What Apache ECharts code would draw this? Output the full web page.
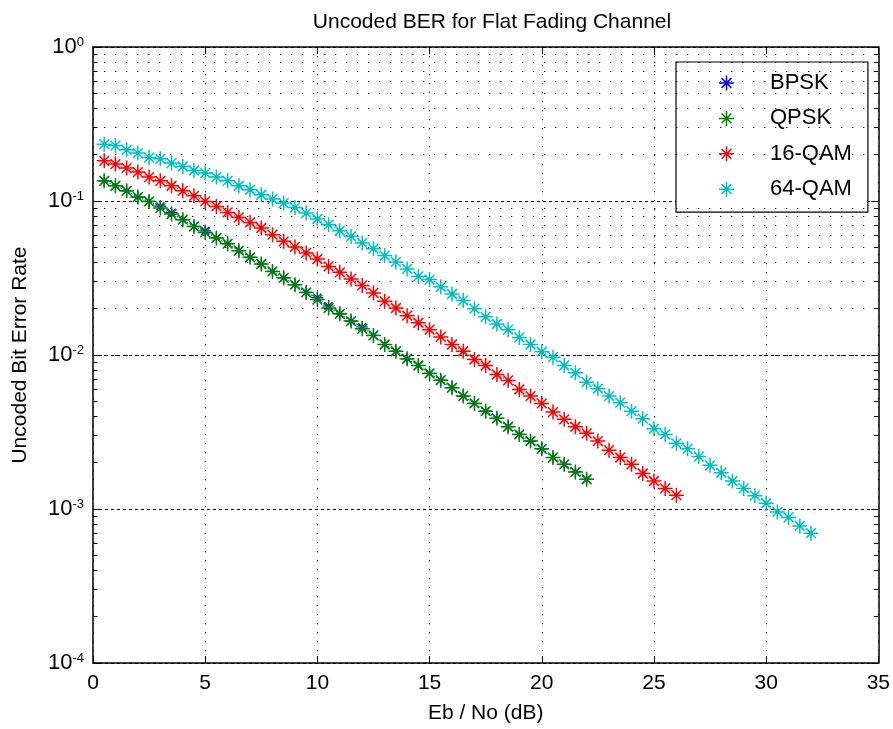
<!DOCTYPE html>
<html>
<head>
<meta charset="utf-8">
<script src="https://cdn.jsdelivr.net/npm/echarts@6/dist/echarts.min.js"></script>
<style>html,body{margin:0;padding:0;background:#fff;}#chart{width:893px;height:729px;}</style>
</head>
<body>
<div id="chart"></div>
<script>
// ---- data ----
const ebnoDb = [0.5,1,1.5,2,2.5,3,3.5,4,4.5,5,5.5,6,6.5,7,7.5,8,8.5,9,9.5,10,
  10.5,11,11.5,12,12.5,13,13.5,14,14.5,15,15.5,16,16.5,17,17.5,18,18.5,19,19.5,20,
  20.5,21,21.5,22,22.5,23,23.5,24,24.5,25,25.5,26,26.5,27,27.5,28,28.5,29,29.5,30,
  30.5,31,31.5,32];
const seriesNames = ['BPSK','QPSK','16-QAM','64-QAM'];
const berBPSK = [0.1353,0.1256,0.1165,0.1061,0.0993,0.0925,0.0840,0.0756,0.0684,0.0640,
  0.0575,0.0528,0.0476,0.0431,0.0390,0.0349,0.0317,0.0286,0.0255,0.0236,
  0.0208,0.0185,0.0166,0.0152,0.0134,0.0117,0.01058,0.00945,0.00855,0.00759,
  0.00686,0.00613,0.00541,0.00485,0.00432,0.00388,0.00342,0.00305,0.00276,0.00246,
  0.00216,0.00195,0.00174,0.00156];
const berQPSK = [0.1353,0.1256,0.1165,0.1061,0.0993,0.0900,0.0823,0.0756,0.0684,0.0625,
  0.0575,0.0528,0.0476,0.0431,0.0390,0.0349,0.0317,0.0286,0.0255,0.0229,
  0.0202,0.0185,0.0166,0.0148,0.0134,0.0117,0.01058,0.00945,0.00855,0.00759,
  0.00686,0.00613,0.00541,0.00485,0.00432,0.00388,0.00342,0.00305,0.00276,0.00246,
  0.00216,0.00195,0.00174,0.00156];
const ber16QAM = [0.1824,0.1736,0.1635,0.1540,0.1430,0.1353,0.1256,0.1165,0.1081,0.0993,
  0.0922,0.0843,0.0782,0.0726,0.0668,0.0604,0.0547,0.0503,0.0460,0.0420,
  0.0376,0.0344,0.0312,0.0283,0.0253,0.0223,0.0202,0.0180,0.0162,0.0146,
  0.0131,0.0117,0.01058,0.00935,0.00855,0.00747,0.00684,0.00597,0.00541,0.00485,
  0.00426,0.00382,0.00342,0.00310,0.00276,0.00241,0.00216,0.00195,0.00170,0.00152,
  0.00136,0.00123];
const ber64QAM = [0.2339,0.2291,0.2149,0.2046,0.1915,0.1879,0.1762,0.1675,0.1578,0.1518,
  0.1430,0.1353,0.1256,0.1183,0.1098,0.1029,0.0970,0.0908,0.0835,0.0764,
  0.0702,0.0641,0.0589,0.0534,0.0490,0.0442,0.0402,0.0362,0.0324,0.0309,
  0.0277,0.0249,0.0226,0.0200,0.0177,0.0159,0.0146,0.0130,0.0117,0.0105,
  0.00968,0.00855,0.00766,0.00666,0.00604,0.00541,0.00490,0.00432,0.00386,0.00332,
  0.00305,0.00267,0.00246,0.00219,0.00192,0.00172,0.00152,0.00136,0.00122,0.00109,
  0.000957,0.000881,0.000777,0.000697];
const xTicks = [0,5,10,15,20,25,30,35];
const yDecades = [1e-4,1e-3,1e-2,1e-1,1];

// ---- styling ----
const colors = ['#0000ff','#008000','#ff0000','#00bfbf'];
const symbolSizes = [12, 15, 15, 15];
const FONT = 'Liberation Sans, Arial, sans-serif';
const STAR = 'path://M-1,-10L1,-10L1,10L-1,10Z M-10,-1L10,-1L10,1L-10,1Z M-5.8,-7.2L7.2,5.8L5.8,7.2L-7.2,-5.8Z M7.2,-5.8L-5.8,7.2L-7.2,5.8L5.8,-7.2Z';

// minor grid values (2..9 x each decade)
const minorVals = [];
for (let d = 0; d < yDecades.length - 1; d++) {
  for (let k = 2; k <= 9; k++) minorVals.push(+(k * yDecades[d]).toPrecision(3));
}

function pairs(ys) { return ys.map((v, i) => [ebnoDb[i], v]); }

const dataSets = [berBPSK, berQPSK, ber16QAM, ber64QAM];
const series = dataSets.map((d, i) => ({
  name: seriesNames[i],
  type: 'line',
  data: pairs(d),
  symbol: STAR,
  symbolSize: symbolSizes[i],
  showSymbol: true,
  lineStyle: { color: colors[i], width: 1, type: [1, 2] },
  itemStyle: { color: colors[i] },
  z: 10 + i,
  animation: false
}));

// decoration: minor dotted grid + minor ticks (left & right)
const tickSegs = [];
minorVals.forEach(v => {
  tickSegs.push([{ coord: [0, v] }, { coord: [0.2, v] }]);
  tickSegs.push([{ coord: [34.8, v] }, { coord: [35, v] }]);
});
series.unshift({
  name: 'grid', type: 'line', data: [], silent: true, animation: false, z: 1,
  markLine: {
    silent: true, symbol: 'none', animation: false,
    label: { show: false },
    lineStyle: { color: '#000', width: 1, type: [1.3, 9.7] },
    data: minorVals.map(v => ({ yAxis: v }))
  }
});
series.unshift({
  name: 'ticks', type: 'line', data: [], silent: true, animation: false, z: 2,
  markLine: {
    silent: true, symbol: 'none', animation: false,
    label: { show: false },
    lineStyle: { color: '#000', width: 1, type: 'solid' },
    data: tickSegs
  }
});

const chart = echarts.init(document.getElementById('chart'), null, { renderer: 'canvas' });
chart.setOption({
  animation: false,
  backgroundColor: '#fff',
  title: {
    text: 'Uncoded BER for Flat Fading Channel',
    left: 487, top: 7, textAlign: 'center',
    textStyle: { fontFamily: FONT, fontSize: 21, fontWeight: 'normal', color: '#000' }
  },
  grid: { left: 93, right: 13, top: 47, bottom: 65 },
  legend: {
    data: seriesNames,
    orient: 'vertical',
    left: 676, top: 62,
    padding: [10, 16, 12, 43],
    itemWidth: 15, itemHeight: 15, itemGap: 13.4,
    icon: STAR,
    backgroundColor: '#fff',
    borderColor: '#000', borderWidth: 1.2, borderRadius: 0,
    textStyle: { fontFamily: FONT, fontSize: 22, color: '#000', lineHeight: 20, padding: [0, 0, 0, 31] }
  },
  xAxis: [{
    type: 'value', min: 0, max: 35, interval: 5,
    name: 'Eb / No (dB)', nameLocation: 'middle', nameGap: 40,
    nameTextStyle: { fontFamily: FONT, fontSize: 21, color: '#000' },
    axisLine: { show: true, onZero: false, lineStyle: { color: '#000', width: 1.5 } },
    axisTick: { show: true, inside: true, length: 7, lineStyle: { color: '#000' } },
    axisLabel: { fontFamily: FONT, fontSize: 21, color: '#000', margin: 10,
      formatter: v => (xTicks.indexOf(v) >= 0 ? String(v) : '') },
    splitLine: { show: true, lineStyle: { color: '#000', width: 1, type: [1.3, 7.7] } }
  }, {
    type: 'value', min: 0, max: 35, interval: 5, position: 'top',
    axisLine: { show: true, onZero: false, lineStyle: { color: '#000', width: 1.5 } },
    axisTick: { show: true, inside: true, length: 7, lineStyle: { color: '#000' } },
    axisLabel: { show: false }, splitLine: { show: false }
  }],
  yAxis: [{
    type: 'log', logBase: 10, min: 1e-4, max: 1,
    name: 'Uncoded Bit Error Rate', nameLocation: 'middle', nameGap: 62, nameRotate: 90,
    nameTextStyle: { fontFamily: FONT, fontSize: 21, color: '#000' },
    axisLine: { show: true, onZero: false, lineStyle: { color: '#000', width: 1.5 } },
    axisTick: { show: true, inside: true, length: 7, lineStyle: { color: '#000' } },
    axisLabel: {
      margin: 9, color: '#000',
      formatter: v => '{b|10}{s|' + Math.round(Math.log10(v)) + '}',
      rich: {
        b: { fontFamily: FONT, fontSize: 22, color: '#000', lineHeight: 22 },
        s: { fontFamily: FONT, fontSize: 13, color: '#000', lineHeight: 13, verticalAlign: 'top', padding: [0, 0, 12, 0] }
      }
    },
    splitLine: { show: true, lineStyle: { color: '#000', width: 1, type: [3, 3] } }
  }, {
    type: 'log', logBase: 10, min: 1e-4, max: 1, position: 'right',
    axisLine: { show: true, onZero: false, lineStyle: { color: '#000', width: 1.5 } },
    axisTick: { show: true, inside: true, length: 7, lineStyle: { color: '#000' } },
    axisLabel: { show: false }, splitLine: { show: false }
  }],
  series: series
});
</script>
</body>
</html>
